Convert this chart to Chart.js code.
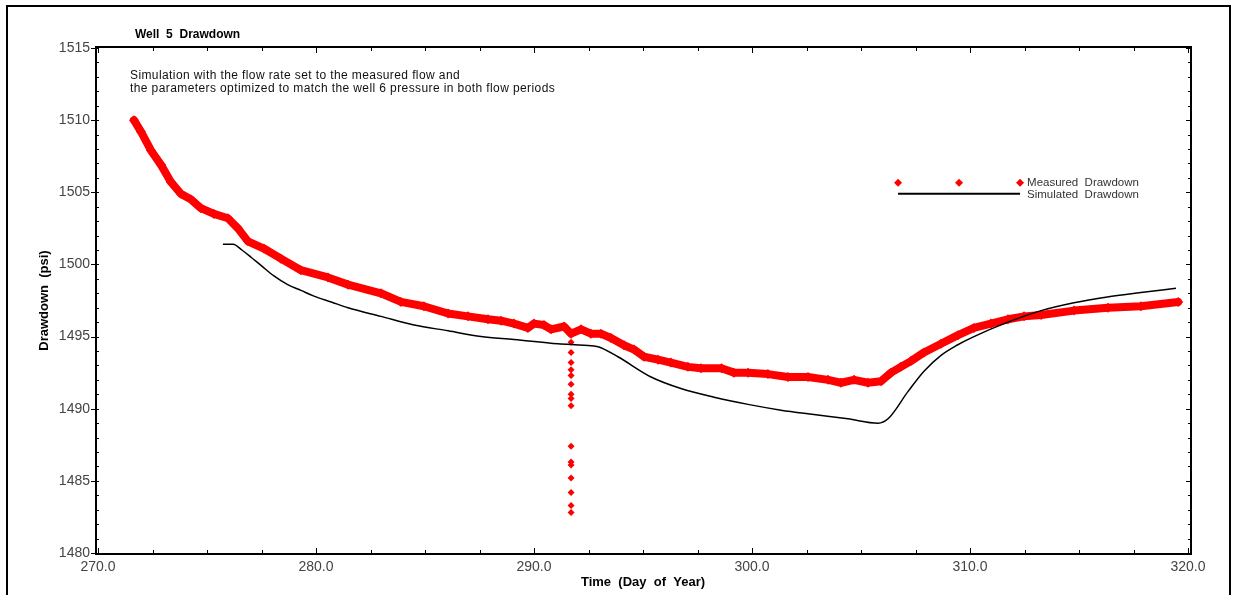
<!DOCTYPE html>
<html>
<head>
<meta charset="utf-8">
<script src="https://cdn.jsdelivr.net/npm/chart.js@4.4.1/dist/chart.umd.min.js"></script>
<style>
  html, body { margin: 0; padding: 0; background: #fff; overflow: hidden; }
  #cadre { position: absolute; left: 6px; top: 5px; width: 1221px; height: 610px; border: 2px solid #000; }
  #drawdown { position: absolute; left: 0; top: 0; }
</style>
</head>
<body>
<div id="cadre"></div>
<canvas id="drawdown" width="1233" height="595"></canvas>
<script>
const measuredDays = [
  271.65, 271.97, 272.43, 272.89, 273.35, 273.80, 274.27, 274.72, 275.32, 275.96,
  276.42, 276.88, 277.61, 278.39, 279.31, 280.55, 281.47, 282.98, 283.90, 284.95,
  286.06, 286.97, 287.89, 288.49, 289.08, 289.72, 290.00, 290.46, 290.78, 291.38,
  291.70, 292.16, 292.61, 293.07, 293.53, 294.13, 294.59, 295.05, 295.69, 296.28,
  297.06, 297.66, 298.60, 299.17, 299.82, 300.73, 301.65, 302.57, 303.49, 304.08,
  304.68, 305.32, 305.92, 306.38, 306.83, 307.29, 307.89, 308.67, 309.45, 310.18,
  310.96, 311.74, 312.48, 313.26, 314.77, 316.33, 317.84, 319.55
];
const measuredValues = [
  1510.0, 1509.2, 1507.9, 1506.9, 1505.7, 1504.9, 1504.5, 1503.9, 1503.5, 1503.2,
  1502.5, 1501.6, 1501.1, 1500.4, 1499.6, 1499.1, 1498.6, 1498.0, 1497.4, 1497.1,
  1496.6, 1496.4, 1496.2, 1496.1, 1495.9, 1495.6, 1495.9, 1495.8, 1495.5, 1495.7,
  1495.2, 1495.5, 1495.2, 1495.2, 1494.9, 1494.4, 1494.1, 1493.6, 1493.4, 1493.2,
  1492.9, 1492.8, 1492.8, 1492.5, 1492.5, 1492.4, 1492.2, 1492.2, 1492.0, 1491.8,
  1492.0, 1491.8, 1491.9, 1492.5, 1492.9, 1493.3, 1493.9, 1494.5, 1495.1, 1495.6,
  1495.9, 1496.2, 1496.4, 1496.5, 1496.8, 1497.0, 1497.1, 1497.4
];

// Points isolés (chute de pression vers le jour 291.7)
const spikeDay = 291.7;
const spikeValues = [
  1494.6, 1493.9, 1493.2, 1492.7, 1492.3, 1491.7, 1491.0, 1490.7, 1490.2,
  1487.4, 1486.3, 1486.1, 1485.2, 1484.2, 1483.3, 1482.8
];

// Simulation
const simulatedDays = [
  275.73, 276.20, 276.60, 277.02, 277.50, 278.07, 278.70, 279.31, 279.91, 280.70,
  281.47, 282.98, 284.50, 286.06, 287.57, 289.08, 291.10, 292.30, 292.94, 293.85,
  295.37, 296.74, 298.26, 299.82, 301.33, 302.84, 304.40, 305.78, 306.24, 307.16,
  307.89, 308.67, 309.40, 310.18, 311.74, 313.26, 314.77, 316.30, 317.84, 319.45
];
const simulatedValues = [
  1501.4, 1501.4, 1501.0, 1500.5, 1499.9, 1499.2, 1498.6, 1498.2, 1497.8, 1497.4,
  1497.0, 1496.4, 1495.8, 1495.4, 1495.0, 1494.8, 1494.5, 1494.4, 1494.3, 1493.6,
  1492.2, 1491.4, 1490.8, 1490.3, 1489.9, 1489.6, 1489.3, 1489.0, 1489.3, 1491.2,
  1492.6, 1493.7, 1494.4, 1495.0, 1496.0, 1496.8, 1497.35, 1497.75, 1498.05, 1498.35
];

const xMin = 270, xMax = 320, xStep = 10, xMinor = 2.5;
const yMin = 1480, yMax = 1515, yStep = 5, yMinor = 1;

const chartTitle = "Well  5  Drawdown";
const noteLines = [
  "Simulation with the flow rate set to the measured flow and",
  "the parameters optimized to match the well 6 pressure in both flow periods"
];
const legendLabels = ["Measured  Drawdown", "Simulated  Drawdown"];

const RED = "#ff0000";
const FONT = "'Liberation Sans', Arial, sans-serif";

// Cadre, graduations, titre, note et légende
const decorPlugin = {
  id: "decor",
  afterDraw(chart) {
    const { ctx, chartArea: a, scales } = chart;
    const sx = scales.x, sy = scales.y;
    ctx.save();

    // cadre du graphe
    ctx.strokeStyle = "#000";
    ctx.lineWidth = 2;
    ctx.strokeRect(a.left - 2, a.top - 1, a.right - a.left + 5, a.bottom - a.top + 2);

    // graduations vers l'intérieur
    ctx.lineWidth = 1;
    for (let v = xMin; v <= xMax + 1e-6; v += xMinor) {
      const px = Math.round(sx.getPixelForValue(v)) + 0.5;
      const len = Math.abs(v % xStep) < 1e-6 ? 5 : 3;
      ctx.beginPath();
      ctx.moveTo(px, a.bottom); ctx.lineTo(px, a.bottom - len);
      ctx.moveTo(px, a.top); ctx.lineTo(px, a.top + len);
      ctx.stroke();
    }
    for (let v = yMin; v <= yMax + 1e-6; v += yMinor) {
      const py = Math.round(sy.getPixelForValue(v)) + 0.5;
      const major = Math.abs(v % yStep) < 1e-6;
      ctx.beginPath();
      ctx.moveTo(a.left - 2 - (major ? 5 : 0), py); ctx.lineTo(a.left + 1, py);
      ctx.moveTo(a.right + 3, py); ctx.lineTo(a.right - (major ? 2 : 0), py);
      ctx.stroke();
    }

    // titre
    ctx.fillStyle = "#000";
    ctx.font = "bold 12px " + FONT;
    ctx.textBaseline = "middle";
    ctx.textAlign = "left";
    ctx.fillText(chartTitle, a.left + 37, a.top - 13);

    // note
    ctx.font = "12px " + FONT;
    ctx.fillStyle = "#111";
    ctx.letterSpacing = "0.4px";
    noteLines.forEach((t, i) => ctx.fillText(t, a.left + 32, a.top + 28 + i * 13));
    ctx.letterSpacing = "0px";

    // légende
    const w = a.right - a.left, h = a.bottom - a.top;
    const lx = a.left + 0.734 * w;
    const ly = a.top + 0.267 * h;
    const span = 122;
    ctx.fillStyle = RED;
    [0, span / 2, span].forEach(dx => {
      ctx.beginPath();
      ctx.moveTo(lx + dx, ly - 4); ctx.lineTo(lx + dx + 4, ly);
      ctx.lineTo(lx + dx, ly + 4); ctx.lineTo(lx + dx - 4, ly);
      ctx.closePath(); ctx.fill();
    });
    ctx.strokeStyle = "#000";
    ctx.lineWidth = 2;
    ctx.beginPath();
    ctx.moveTo(lx, ly + 11); ctx.lineTo(lx + span, ly + 11);
    ctx.stroke();
    ctx.fillStyle = "#333";
    ctx.font = "11.5px " + FONT;
    ctx.fillText(legendLabels[0], lx + 129, ly);
    ctx.fillText(legendLabels[1], lx + 129, ly + 12);

    ctx.restore();
  }
};

const ctx = document.getElementById("drawdown").getContext("2d");

new Chart(ctx, {
  type: "scatter",
  plugins: [decorPlugin],
  data: {
    datasets: [
      {
        label: "Simulated Drawdown",
        data: simulatedDays.map((d, i) => ({ x: d, y: simulatedValues[i] })),
        showLine: true,
        borderColor: "#000",
        borderWidth: 1.5,
        pointRadius: 0,
        cubicInterpolationMode: "monotone",
        order: 1
      },
      {
        label: "Measured Drawdown",
        data: measuredDays.map((d, i) => ({ x: d, y: measuredValues[i] })),
        showLine: true,
        borderColor: RED,
        backgroundColor: RED,
        borderWidth: 8,
        borderCapStyle: "round",
        borderJoinStyle: "round",
        pointStyle: "rectRot",
        pointRadius: 5,
        pointBorderWidth: 0,
        order: 2
      },
      {
        label: "Measured Drawdown (spike)",
        data: spikeValues.map(v => ({ x: spikeDay, y: v })),
        showLine: false,
        backgroundColor: RED,
        borderColor: RED,
        pointStyle: "rectRot",
        pointRadius: 3.5,
        pointBorderWidth: 0,
        order: 2
      }
    ]
  },
  options: {
    responsive: false,
    animation: false,
    devicePixelRatio: 1,
    layout: { padding: { top: 48, right: 45, left: 0, bottom: 0 } },
    plugins: {
      legend: { display: false },
      tooltip: { enabled: false }
    },
    scales: {
      x: {
        type: "linear",
        min: xMin,
        max: xMax,
        afterFit: s => { s.height = 42; },
        grid: { display: false, drawTicks: false, tickLength: 0 },
        border: { display: false },
        ticks: {
          stepSize: xStep,
          padding: 6,
          color: "#444",
          font: { family: FONT, size: 14 },
          maxRotation: 0,
          callback: v => Number(v).toFixed(1)
        },
        title: {
          display: true,
          text: "Time  (Day  of  Year)",
          color: "#000",
          font: { family: FONT, size: 13, weight: "bold" },
          padding: { top: 0, bottom: 5 }
        }
      },
      y: {
        min: yMin,
        max: yMax,
        afterFit: s => { s.width = 98; },
        grid: { display: false, drawTicks: false, tickLength: 0 },
        border: { display: false },
        ticks: {
          stepSize: yStep,
          padding: 8,
          color: "#444",
          font: { family: FONT, size: 14 },
          callback: v => String(v)
        },
        title: {
          display: true,
          text: "Drawdown  (psi)",
          color: "#000",
          font: { family: FONT, size: 13, weight: "bold" },
          padding: { top: 37, bottom: 0 }
        }
      }
    }
  }
});
</script>
</body>
</html>
